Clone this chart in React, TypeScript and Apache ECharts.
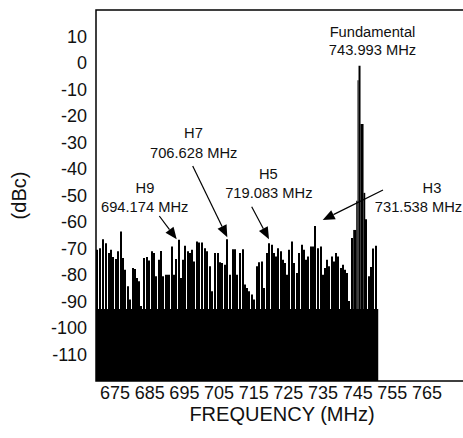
import React, { useEffect, useRef } from "react";
import * as echarts from "echarts";

// Spectrum bins: left-edge frequency (MHz) and level (dBc)
const freqs = [
  669.5, 670.34, 671.3, 672.07, 672.84, 673.51, 674.19, 674.86, 675.44, 676.31,
  677.08, 677.65, 678.33, 679.0, 679.77, 680.45, 681.12, 681.7, 682.27, 683.04,
  683.81, 684.58, 685.26, 685.93, 686.6, 687.28, 687.95, 688.63, 689.4, 690.07,
  691.03, 691.71, 692.38, 693.15, 693.73, 694.4, 694.98, 695.65, 696.33, 696.9,
  697.58, 698.25, 699.02, 699.79, 700.56, 701.33, 702.1, 702.78, 703.55, 704.32,
  704.99, 705.66, 706.43, 707.11, 707.88, 708.65, 709.32, 710.0, 710.77, 711.54,
  712.21, 712.89, 713.46, 714.14, 714.81, 715.58, 716.25, 717.02, 717.7, 718.47,
  719.24, 719.91, 720.58, 721.16, 721.84, 722.51, 723.09, 723.76, 724.43, 725.01,
  725.68, 726.35, 727.12, 727.89, 728.57, 729.24, 729.82, 730.49, 731.16, 731.74,
  732.51, 733.38, 734.05, 734.63, 735.3, 735.97, 736.55, 737.23, 737.9, 738.48,
  739.15, 739.82, 740.4, 741.08, 741.75, 742.32, 742.99, 743.71, 744.58, 744.95,
  745.24, 745.82, 746.69, 747.18, 747.84, 748.48, 749.2, 750.07,
];
const levels = [
  -70.5, -69.9, -66.5, -68, -71.7, -70.5, -73.2, -74, -71, -63.6,
  -73.6, -78, -84.2, -89.2, -77.4, -77.7, -81.1, -82.4, -91.7, -73.6,
  -73.2, -74.5, -71, -71.7, -80.5, -74.2, -70.9, -80.5, -79.9, -79.9,
  -69.2, -79.9, -74, -66.7, -81.1, -74.2, -69, -71, -71.7, -70.5,
  -74.9, -67.4, -67.7, -67.7, -69.9, -71, -76.7, -86.1, -71.7, -71.7,
  -75.2, -75.5, -76.1, -66.5, -79.9, -70.3, -70.3, -79.9, -71.7, -70.3,
  -83.6, -84.9, -86.1, -87.4, -89.2, -76.7, -75.2, -74.9, -84.9, -71.7,
  -68, -68.6, -71.7, -73, -69.9, -71, -74.2, -75.5, -79.9, -70.5,
  -67.4, -75.5, -79.2, -71.7, -68.6, -70.5, -74.2, -73, -69.2, -69.2,
  -61.5, -69.9, -69.2, -79.9, -77.4, -74.2, -76.7, -73, -74.9, -71.7,
  -73, -77.4, -76.1, -78, -79.2, -89.8, -66, -63, -52, -6.5,
  -1, -23, -49, -59, -80.5, -77, -70, -69,
];
const noiseEnd = 750.93;
const floorLevel = -92.8;

const xTicks = [675, 685, 695, 705, 715, 725, 735, 745, 755, 765];
const xMin = 669.5;
const xMax = 780;
const yMin = -120;
const yMax = 20;

const labelLines = [
  { text: "Fundamental", x: 372.5, y: 31.7 },
  { text: "743.993 MHz", x: 372.5, y: 50 },
  { text: "H7", x: 193.5, y: 133.3 },
  { text: "706.628 MHz", x: 193.7, y: 152.7 },
  { text: "H9", x: 145, y: 188.3 },
  { text: "694.174 MHz", x: 144.7, y: 206.7 },
  { text: "H5", x: 268.3, y: 174 },
  { text: "719.083 MHz", x: 268.8, y: 192.7 },
  { text: "H3", x: 432, y: 188.3 },
  { text: "731.538 MHz", x: 418.5, y: 207 },
];
const arrowLines = [
  { from: [159.3, 216], to: [176.7, 239.3] },
  { from: [192.7, 166], to: [227.3, 237.3] },
  { from: [251.7, 206.7], to: [269, 239.3] },
  { from: [383, 190], to: [322.7, 220] },
];

const FONT = '"Liberation Sans", Arial, Helvetica, sans-serif';

function arrowGraphics() {
  const out: any[] = [];
  arrowLines.forEach((a) => {
    const [x1, y1] = a.from;
    const [x2, y2] = a.to;
    const dx = x2 - x1;
    const dy = y2 - y1;
    const len = Math.sqrt(dx * dx + dy * dy);
    const ux = dx / len;
    const uy = dy / len;
    const headLen = 12;
    const half = 5;
    const bx = x2 - ux * headLen;
    const by = y2 - uy * headLen;
    out.push({
      type: "line",
      shape: { x1, y1, x2: bx, y2: by },
      style: { stroke: "#000", lineWidth: 1.2 },
    });
    out.push({
      type: "polygon",
      shape: {
        points: [
          [x2, y2],
          [bx - uy * half, by + ux * half],
          [bx + uy * half, by - ux * half],
        ],
      },
      style: { fill: "#000" },
    });
  });
  return out;
}

export default function App() {
  const ref = useRef<HTMLDivElement>(null);
  useEffect(() => {
    const chart = echarts.init(ref.current as HTMLDivElement, null, { renderer: "svg" });
    const barData = freqs.map((f, i) => [f, levels[i]]);
    const option: any = {
      animation: false,
      backgroundColor: "#fff",
      grid: {
        left: 96,
        top: 10,
        bottom: 57,
        right: 0,
        show: true,
        borderColor: "#000",
        borderWidth: 1.5,
        backgroundColor: "transparent",
      },
      xAxis: {
        type: "value",
        min: xMin,
        max: xMax,
        axisLine: { show: false },
        axisTick: { show: false, customValues: xTicks },
        splitLine: { show: false },
        axisLabel: {
          customValues: xTicks,
          fontSize: 18,
          lineHeight: 15,
          fontFamily: FONT,
          color: "#111",
          margin: 4,
        },
        name: "FREQUENCY (MHz)",
        nameLocation: "middle",
        nameGap: 24,
        nameMoveOverlap: false,
        nameTextStyle: {
          fontSize: 20,
          lineHeight: 17,
          fontFamily: FONT,
          color: "#111",
          padding: [0, 11, 0, 0],
        },
      },
      yAxis: {
        type: "value",
        min: yMin,
        max: yMax,
        interval: 10,
        axisLine: { show: false },
        axisTick: { show: false },
        splitLine: { show: false },
        axisLabel: {
          showMinLabel: false,
          showMaxLabel: false,
          fontSize: 18,
          fontFamily: FONT,
          color: "#111",
          margin: 9,
        },
        name: "(dBc)",
        nameLocation: "middle",
        nameGap: 67,
        nameMoveOverlap: false,
        nameTextStyle: { fontSize: 20, fontFamily: FONT, color: "#111" },
      },
      series: [
        {
          type: "custom",
          name: "floor",
          data: [[freqs[0], floorLevel, noiseEnd]],
          encode: { x: [0, 2], y: 1 },
          renderItem: (params: any, api: any) => {
            const p0 = api.coord([api.value(0), api.value(1)]);
            const p1 = api.coord([api.value(2), yMin]);
            return {
              type: "rect",
              shape: { x: p0[0], y: p0[1], width: p1[0] - p0[0], height: p1[1] - p0[1] },
              style: { fill: "#000" },
            };
          },
        },
        {
          type: "custom",
          name: "spectrum",
          data: barData,
          encode: { x: 0, y: 1 },
          renderItem: (params: any, api: any) => {
            const i = params.dataIndex;
            const f0 = api.value(0);
            const lv = api.value(1);
            const f1 = i + 1 < freqs.length ? freqs[i + 1] : noiseEnd;
            const nextLv = i + 1 < levels.length ? levels[i + 1] : yMin;
            const top = api.coord([f0, lv]);
            const br = api.coord([f1, yMin]);
            const spike = !(lv < -55 && nextLv < -55);
            const L = spike ? top[0] : Math.round(top[0]);
            const R = spike ? br[0] : Math.round(br[0]);
            const span = R - L;
            const w = spike ? span : span >= 3 ? span - 1 : span;
            return {
              type: "rect",
              shape: { x: L, y: top[1], width: w, height: br[1] - top[1] },
              style: { fill: "#000" },
            };
          },
        },
      ],
      graphic: [
        ...labelLines.map((l) => ({
          type: "text",
          x: l.x,
          y: l.y,
          style: {
            text: l.text,
            fontSize: 14.7,
            fontFamily: FONT,
            fill: "#111",
            align: "center",
            verticalAlign: "middle",
          },
        })),
        ...arrowGraphics(),
      ],
    };
    chart.setOption(option);
    return () => chart.dispose();
  }, []);
  return (
    <div
      ref={ref}
      style={{ position: "fixed", left: 0, top: 0, width: 479, height: 438, background: "#fff" }}
    />
  );
}
